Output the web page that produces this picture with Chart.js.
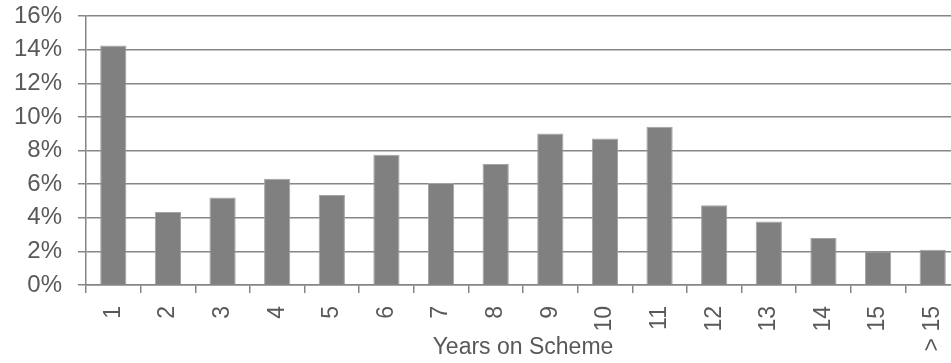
<!DOCTYPE html>
<html>
<head>
<meta charset="utf-8">
<script src="https://cdn.jsdelivr.net/npm/chart.js@4"></script>
<style>
  html, body { margin: 0; padding: 0; background: #fff; overflow: hidden; }
</style>
</head>
<body>
<!-- plot runs a little past the right edge of the window -->
<canvas id="chart" width="960" height="363"></canvas>
<script>
// share of members by years on scheme (%)
const years = ['1', '2', '3', '4', '5', '6', '7', '8', '9', '10', '11', '12', '13', '14', '15', '> 15'];
const shares = [14.24, 4.34, 5.2, 6.32, 5.35, 7.74, 6.06, 7.19, 9.01, 8.71, 9.42, 4.75, 3.78, 2.79, 2.0, 2.1];
const yTicks = [0, 2, 4, 6, 8, 10, 12, 14, 16];

const textColor = '#595959';
const lineColor = '#868686';
const family = 'Liberation Sans, Arial, sans-serif';

new Chart(document.getElementById('chart'), {
    type: 'bar',
    data: {
        labels: years,
        datasets: [{
            data: shares,
            backgroundColor: '#808080',
            borderColor: '#a3a3a3',
            borderWidth: 1,
            categoryPercentage: 1,
            barPercentage: 0.48
        }]
    },
    options: {
        responsive: false,
        animation: false,
        devicePixelRatio: 1,
        layout: { padding: { top: 16, right: 0, bottom: 0, left: 0 } },
        plugins: {
            legend: { display: false },
            tooltip: { enabled: false }
        },
        scales: {
            x: {
                offset: true,
                grid: {
                    offset: true,
                    drawOnChartArea: false,
                    tickLength: 8,
                    color: lineColor,
                    lineWidth: 1.5
                },
                border: { display: true, color: lineColor, width: 1.5 },
                ticks: {
                    color: textColor,
                    font: { family, size: 23 },
                    minRotation: 90,
                    maxRotation: 90,
                    autoSkip: false,
                    padding: 13
                },
                title: {
                    display: true,
                    text: 'Years on Scheme',
                    color: textColor,
                    font: { family, size: 23 },
                    padding: { top: 0, bottom: 2 }
                },
                // fixed axis band, no extra side padding from rotated labels
                afterFit: (scale) => {
                    scale.height = 78;
                    scale.paddingLeft = 0;
                    scale.paddingRight = 0;
                }
            },
            y: {
                min: 0,
                max: 16,
                afterBuildTicks: (scale) => {
                    scale.ticks = yTicks.map(v => ({ value: v }));
                },
                grid: {
                    color: lineColor,
                    lineWidth: 1.5,
                    tickLength: 8
                },
                border: { display: true, color: lineColor, width: 1.5 },
                ticks: {
                    color: textColor,
                    font: { family, size: 24 },
                    padding: 16,
                    callback: (v) => v + '%'
                },
                afterFit: (scale) => {
                    scale.width = 86;
                    scale.paddingTop = 0;
                    scale.paddingBottom = 0;
                }
            }
        }
    }
});
</script>
</body>
</html>
